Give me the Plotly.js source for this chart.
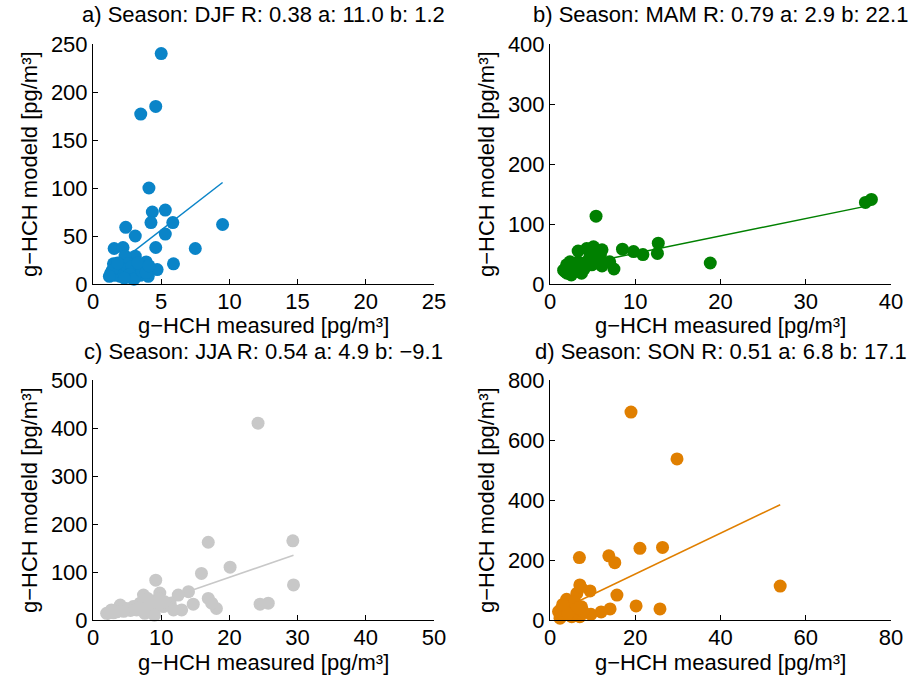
<!DOCTYPE html>
<html>
<head>
<meta charset="utf-8">
<script src="https://cdn.plot.ly/plotly-3.0.1.min.js"></script>
<style>html,body{margin:0;padding:0;background:#fff;}#chart{width:912px;height:683px;}</style>
</head>
<body>
<div id="chart"></div>
<script>
// ---- data ----
var seasons = ["DJF", "MAM", "JJA", "SON"];
var panelLetters = ["a", "b", "c", "d"];
var statR = [0.38, 0.79, 0.54, 0.51];
var statA = [11.0, 2.9, 4.9, 6.8];
var statB = [1.2, 22.1, -9.1, 17.1];

var djfX = [5.0, 4.6, 3.5, 4.1, 5.3, 4.35, 4.25, 5.85, 2.4, 9.5, 3.1, 5.3, 1.55, 2.2, 4.6, 7.5, 5.9, 4.7, 3.1, 2.35, 3.9,
            1.3, 1.5, 1.6, 1.9, 2.1, 2.5, 2.6, 2.85, 3.2, 3.45, 3.8, 4.05, 2.85, 2.0, 1.4, 2.7, 3.0, 3.6, 3.3, 1.8, 1.2, 2.3, 3.9, 4.1];
var djfY = [240, 185, 177, 100, 77, 75, 64, 64, 59, 62, 50, 52, 37, 38, 38, 37, 21, 15, 29, 29, 23,
            11, 21, 9, 16, 13, 15, 21, 18, 15, 9, 18, 8, 6, 8, 14, 10, 5, 13, 22, 22, 8, 6, 12, 19];

var mamX = [5.4, 12.7, 12.6, 10.9, 9.8, 8.5, 18.8, 7.5, 6.1, 5.1, 4.3, 3.3, 5.9, 7.0, 6.1, 4.9, 1.6, 1.95, 2.35, 2.7,
            2.5, 3.7, 3.9, 3.3, 4.3, 4.7, 5.3, 1.75, 2.15, 37.0, 37.7, 2.0, 3.0, 4.0, 5.5, 2.8];
var mamY = [113, 68, 51, 49, 54, 58, 35, 25, 57, 62, 59, 55, 48, 37, 30, 32, 23, 32, 37, 26,
            15, 18, 29, 37, 37, 46, 43, 21, 29, 136, 141, 18, 22, 25, 35, 30];

var jjaX = [24.2, 16.9, 29.3, 20.1, 15.9, 9.2, 29.4, 24.5, 25.7, 18.1, 16.9, 17.4, 14.7, 14.0, 12.5, 13.0, 9.8, 9.6, 7.4, 7.6,
            2.0, 2.7, 4.0, 4.9, 5.9, 6.9, 8.4, 9.1, 10.3, 11.3, 11.8, 8.6, 6.4, 3.5, 3.0, 5.5, 7.0, 8.0, 9.5, 10.5, 7.8, 9.0, 4.5];
var jjaY = [410, 162, 165, 110, 97, 83, 73, 33, 35, 24, 45, 35, 33, 59, 52, 21, 56, 45, 52, 14,
            14, 21, 31, 24, 28, 35, 35, 24, 28, 35, 21, 17, 21, 17, 15, 20, 28, 45, 40, 38, 25, 10, 18];

var sonX = [19.0, 29.8, 54.0, 6.9, 13.8, 15.2, 21.1, 26.4, 15.7, 20.2, 25.8, 14.1, 12.0, 9.4, 7.0, 6.3, 3.9, 9.6,
            2.0, 2.7, 3.1, 4.7, 5.5, 6.3, 7.4, 7.0, 2.35, 5.1, 3.5, 7.8, 7.2, 4.2, 5.8, 6.6, 3.0];
var sonY = [693, 537, 113, 208, 214, 191, 239, 242, 83, 47, 37, 37, 27, 97, 117, 89, 69, 19,
            28, 39, 17, 50, 33, 22, 44, 11, 6, 11, 44, 28, 110, 20, 60, 40, 52];

var xRanges = [[0, 25], [0, 40], [0, 50], [0, 80]];
var yRanges = [[0, 250], [0, 400], [0, 500], [0, 800]];
var xTicks = [[0, 5, 10, 15, 20, 25], [0, 10, 20, 30, 40], [0, 10, 20, 30, 40, 50], [0, 20, 40, 60, 80]];
var yTicks = [[0, 50, 100, 150, 200, 250], [0, 100, 200, 300, 400], [0, 100, 200, 300, 400, 500], [0, 200, 400, 600, 800]];
var colors = ["#0a84c8", "#008000", "#c8c8c8", "#e07f00"];

// ---- build ----
var W = 912, H = 683;
var boxes = [ // pixel boxes [left, right, top, bottom]
  [93, 434, 44, 284], [550, 891, 44, 284],
  [93, 434, 380, 620], [550, 891, 380, 620]
];
var xs = [djfX, mamX, jjaX, sonX];
var ys = [djfY, mamY, jjaY, sonY];
var FONT = "Liberation Sans, Arial, Helvetica, sans-serif";
var FS = 22;
var traces = [];
var layout = {
  width: W, height: H, margin: {l: 0, r: 0, t: 0, b: 0},
  paper_bgcolor: "#fff", plot_bgcolor: "#fff", showlegend: false,
  font: {family: FONT, size: FS, color: "#000"},
  annotations: []
};
for (var i = 0; i < 4; i++) {
  var sfx = i === 0 ? "" : String(i + 1);
  var b = boxes[i];
  var xmin = Math.min.apply(null, xs[i]), xmax = Math.max.apply(null, xs[i]);
  traces.push({
    x: [xmin, xmax], y: [statA[i] * xmin + statB[i], statA[i] * xmax + statB[i]],
    type: "scatter", mode: "lines", line: {color: colors[i], width: 1.5},
    xaxis: "x" + sfx, yaxis: "y" + sfx, hoverinfo: "skip"
  });
  traces.push({
    x: xs[i], y: ys[i], type: "scatter", mode: "markers",
    marker: {color: colors[i], size: 13, line: {width: 0}},
    xaxis: "x" + sfx, yaxis: "y" + sfx, cliponaxis: false
  });
  var axCommon = {
    showline: true, linecolor: "#000", linewidth: 1, mirror: false,
    ticks: "inside", ticklen: 5, tickcolor: "#000", tickwidth: 1,
    showgrid: false, zeroline: false, tickmode: "array",
    tickfont: {family: FONT, size: FS, color: "#000"}, fixedrange: true
  };
  layout["xaxis" + sfx] = Object.assign({}, axCommon, {
    range: xRanges[i], tickvals: xTicks[i], ticktext: xTicks[i].map(String),
    domain: [b[0] / W, b[1] / W], anchor: "y" + sfx, ticklabelstandoff: -2
  });
  layout["yaxis" + sfx] = Object.assign({}, axCommon, {
    range: yRanges[i], tickvals: yTicks[i], ticktext: yTicks[i].map(String),
    domain: [1 - b[3] / H, 1 - b[2] / H], anchor: "x" + sfx
  });
  var cx = (b[0] + b[1]) / 2;
  layout.annotations.push({
    text: panelLetters[i] + ") Season: " + seasons[i] + " R: " + statR[i].toFixed(2) +
          " a: " + statA[i].toFixed(1) + " b: " + statB[i].toFixed(1).replace("-", "\u2212"),
    xref: "paper", yref: "paper", x: cx / W, y: 1 - (b[2] - 29) / H,
    xanchor: "center", yanchor: "middle", showarrow: false,
    font: {family: FONT, size: FS, color: "#000"}
  });
  layout.annotations.push({
    text: "g\u2212HCH measured [pg/m\u00b3]",
    xref: "paper", yref: "paper", x: cx / W, y: 1 - (b[3] + 42) / H,
    xanchor: "center", yanchor: "middle", showarrow: false,
    font: {family: FONT, size: FS, color: "#000"}
  });
  layout.annotations.push({
    text: "g\u2212HCH modeld [pg/m\u00b3]", textangle: -90,
    xref: "paper", yref: "paper", x: (b[0] - 64) / W, y: 1 - ((b[2] + b[3]) / 2) / H,
    xanchor: "center", yanchor: "middle", showarrow: false,
    font: {family: FONT, size: FS, color: "#000"}
  });
}
Plotly.newPlot("chart", traces, layout, {displayModeBar: false, staticPlot: true});
</script>
</body>
</html>
